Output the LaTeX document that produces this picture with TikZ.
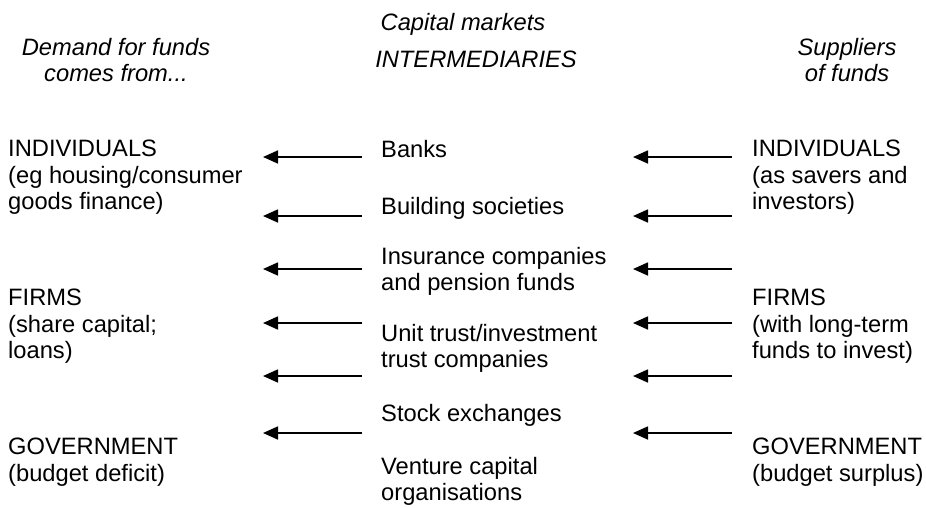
\documentclass[tikz,border=0pt]{standalone}
\usepackage{fontspec}
\setmainfont{Liberation Sans}
\usetikzlibrary{arrows.meta}
\tikzstyle{txt} = [inner sep=0pt, font={\fontsize{23.7}{26.5}\selectfont}, align=left, anchor=north west]
\tikzstyle{head} = [txt, font={\fontsize{23.7}{26.5}\selectfont\itshape}, align=center, anchor=north]
\tikzstyle{flow} = [line width=1.7pt, -{Triangle[length=15pt,width=13pt]}]

\begin{document}
\begin{tikzpicture}[x=1pt,y=1pt]
    \useasboundingbox (0,0) rectangle (926,-507);
    % headings
    \node[head](cap) at (463,-13){Capital markets};
    \node[head](dem) at (116,-38){Demand for funds\\comes from...};
    \node[head](int) at (476,-51){INTERMEDIARIES};
    \node[head](sup) at (847,-38){Suppliers\\of funds};
    % demand side
    \node[txt](dind) at (8,-140){INDIVIDUALS\\(eg housing/consumer\\goods finance)};
    \node[txt](dfirm) at (8,-289){FIRMS\\(share capital;\\loans)};
    \node[txt](dgov) at (8,-438){GOVERNMENT\\(budget deficit)};
    % intermediaries
    \node[txt](bank) at (381,-140){Banks};
    \node[txt](build) at (381,-197){Building societies};
    \node[txt](ins) at (381,-247){Insurance companies\\and pension funds};
    \node[txt](unit) at (381,-324){Unit trust/investment\\trust companies};
    \node[txt](stock) at (381,-404){Stock exchanges};
    \node[txt](vent) at (381,-457){Venture capital\\organisations};
    % suppliers
    \node[txt](sind) at (752,-140){INDIVIDUALS\\(as savers and\\investors)};
    \node[txt](sfirm) at (752,-289){FIRMS\\(with long-term\\funds to invest)};
    \node[txt](sgov) at (752,-438){GOVERNMENT\\(budget surplus)};
    % arrow ends
    \coordinate(m1) at (362,-157); \coordinate(d1) at (263,-157);
    \coordinate(m2) at (362,-216); \coordinate(d2) at (263,-216);
    \coordinate(m3) at (362,-269); \coordinate(d3) at (263,-269);
    \coordinate(m4) at (362,-323); \coordinate(d4) at (263,-323);
    \coordinate(m5) at (362,-376); \coordinate(d5) at (263,-376);
    \coordinate(m6) at (362,-433); \coordinate(d6) at (263,-433);
    \coordinate(s1) at (732,-157); \coordinate(i1) at (633,-157);
    \coordinate(s2) at (732,-216); \coordinate(i2) at (633,-216);
    \coordinate(s3) at (732,-269); \coordinate(i3) at (633,-269);
    \coordinate(s4) at (732,-323); \coordinate(i4) at (633,-323);
    \coordinate(s5) at (732,-376); \coordinate(i5) at (633,-376);
    \coordinate(s6) at (732,-433); \coordinate(i6) at (633,-433);
    \draw[flow](m1)--(d1);
    \draw[flow](m2)--(d2);
    \draw[flow](m3)--(d3);
    \draw[flow](m4)--(d4);
    \draw[flow](m5)--(d5);
    \draw[flow](m6)--(d6);
    \draw[flow](s1)--(i1);
    \draw[flow](s2)--(i2);
    \draw[flow](s3)--(i3);
    \draw[flow](s4)--(i4);
    \draw[flow](s5)--(i5);
    \draw[flow](s6)--(i6);
  \end{tikzpicture}
\end{document}
